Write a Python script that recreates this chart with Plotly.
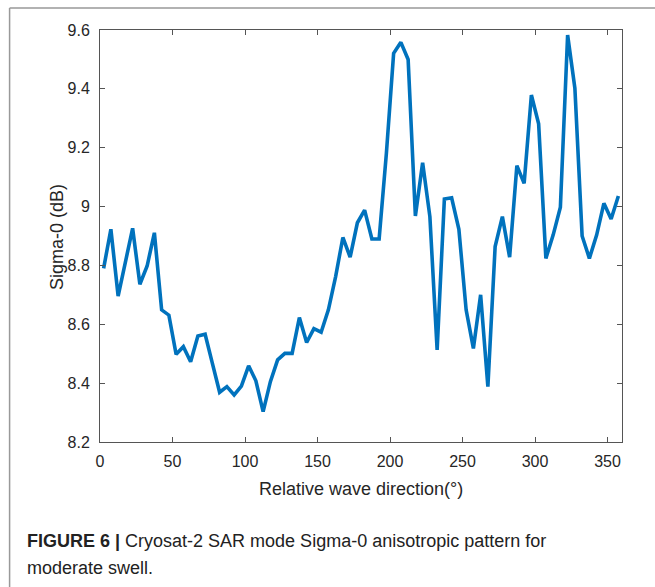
import plotly.graph_objects as go

direction = [2.5 + 5 * k for k in range(72)]
sigma0 = [8.79, 8.923, 8.696, 8.81, 8.926, 8.736, 8.798, 8.911, 8.649, 8.631,
          8.498, 8.524, 8.473, 8.560, 8.566, 8.467, 8.369, 8.388, 8.360, 8.390,
          8.459, 8.408, 8.303, 8.405, 8.479, 8.501, 8.501, 8.623, 8.538, 8.585,
          8.573, 8.649, 8.762, 8.895, 8.828, 8.945, 8.988, 8.890, 8.890, 9.181,
          9.521, 9.558, 9.500, 8.968, 9.149, 8.966, 8.513, 9.026, 9.030, 8.923,
          8.649, 8.518, 8.700, 8.388, 8.864, 8.966, 8.828, 9.139, 9.079, 9.379,
          9.281, 8.824, 8.903, 8.998, 9.583, 9.402, 8.900, 8.824, 8.903, 9.011,
          8.958, 9.036]
x_ticks = [0, 50, 100, 150, 200, 250, 300, 350]
y_ticks = [8.2, 8.4, 8.6, 8.8, 9.0, 9.2, 9.4, 9.6]
y_ticklabels = ["8.2", "8.4", "8.6", "8.8", "9", "9.2", "9.4", "9.6"]

W, H = 655, 587
L, R, T, B = 99.5, 33, 30, 145
pw, ph = W - L - R, H - T - B

def px(xp):
    return (xp - L) / pw

def py(yp):
    return 1 - (yp - T) / ph

fig = go.Figure()
fig.add_trace(go.Scatter(x=direction, y=sigma0, mode="lines",
                         line=dict(color="#0072BD", width=3.6), showlegend=False))

axis_common = dict(showline=True, linecolor="#555555", linewidth=1, mirror="ticks",
                   ticks="inside", ticklen=5, tickcolor="#555555", showgrid=False,
                   zeroline=False, tickfont=dict(family="Liberation Sans, Arial", size=16, color="#262626"))

fig.update_xaxes(range=[0, 360], tickvals=x_ticks, ticklabelstandoff=5, **axis_common)
fig.update_yaxes(range=[8.2, 9.6], tickvals=y_ticks, ticktext=y_ticklabels,
                 ticklabelstandoff=6, **axis_common)

title_font = dict(family="Liberation Sans, Arial", size=18, color="#262626")
fig.add_annotation(text="Relative wave direction(°)", xref="paper", yref="paper",
                   x=px(361), y=py(489), xanchor="center", yanchor="middle",
                   showarrow=False, font=title_font)
fig.add_annotation(text="Sigma-0 (dB)", xref="paper", yref="paper", textangle=-90,
                   x=px(56.5), y=py(237), xanchor="center", yanchor="middle",
                   showarrow=False, font=title_font)

cap_font = dict(family="Liberation Sans, Arial", size=18, color="#222222")
fig.add_annotation(text="<b>FIGURE 6 |</b> Cryosat-2 SAR mode Sigma-0 anisotropic pattern for",
                   xref="paper", yref="paper", x=px(24), y=py(541), xanchor="left",
                   yanchor="middle", showarrow=False, font=cap_font)
fig.add_annotation(text="moderate swell.", xref="paper", yref="paper", x=px(24), y=py(568),
                   xanchor="left", yanchor="middle", showarrow=False, font=cap_font)

# figure frame
fig.add_shape(type="line", xref="paper", yref="paper", x0=px(9), x1=px(660), y0=py(8), y1=py(8),
              line=dict(color="#999999", width=1.5))
fig.add_shape(type="line", xref="paper", yref="paper", x0=px(9), x1=px(9), y0=py(8), y1=py(600),
              line=dict(color="#999999", width=1.5))

fig.update_layout(width=W, height=H, margin=dict(l=L, r=R, t=T, b=B),
                  paper_bgcolor="white", plot_bgcolor="white")

fig.write_html("out.html")
